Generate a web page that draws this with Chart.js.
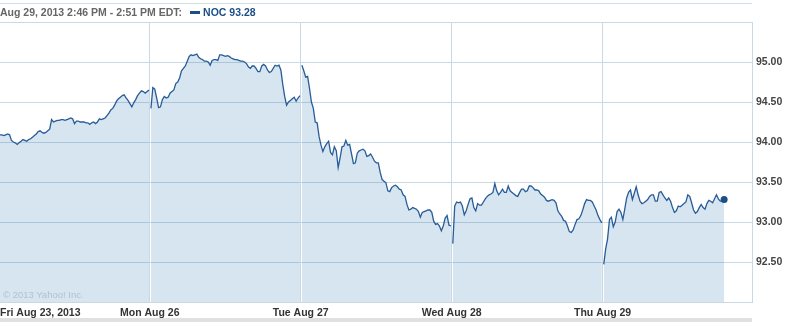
<!DOCTYPE html>
<html>
<head>
<meta charset="utf-8">
<script src="https://cdn.jsdelivr.net/npm/chart.js@4.4.1/dist/chart.umd.min.js"></script>
<style>
  body { margin: 0; background: #fff; }
  #wrap { position: relative; width: 794px; height: 322px; overflow: hidden; }
  #chart { position: absolute; left: 0; top: 0; }
  .topline { position: absolute; left: 0; top: 3px; width: 752px; height: 1px; background: #d3dde4; }
  .band { position: absolute; left: 0; top: 318px; width: 752px; height: 4px; background: #e0e0e0; }
  .head { position: absolute; left: 0; top: 6px; font: bold 10.5px "Liberation Sans", Arial, sans-serif; color: #666; white-space: nowrap; }
  .head .sym { color: #1c4f87; margin-left: 8px; }
  .head .mark { display: inline-block; width: 10px; height: 3px; background: #1c4f87; vertical-align: middle; margin-right: 3px; position: relative; top: -1px; }
  .copy { position: absolute; left: 3px; top: 289px; font: 9.5px "Liberation Sans", Arial, sans-serif; color: #b3c2cd; }
</style>
</head>
<body>
<div id="wrap">
  <canvas id="chart" width="794" height="322"></canvas>
  <div class="topline"></div>
  <div class="head">Aug 29, 2013 2:46 PM - 2:51 PM EDT:<span class="sym"><span class="mark"></span>NOC 93.28</span></div>
  <div class="copy">© 2013 Yahoo! Inc.</div>
  <div class="band"></div>
</div>
<script>
// 5 minute closes, 9:30 to 16:00 (Thu until 14:46)
const fri = [94.09, 94.09, 94.08, 94.09, 94.10, 94.09, 94.02, 94.00, 93.99, 93.97,
  93.99, 94.01, 94.03, 94.02, 94.01, 94.03, 94.04, 94.06, 94.08, 94.10,
  94.13, 94.14, 94.12, 94.11, 94.12, 94.14, 94.16, 94.28, 94.25, 94.26,
  94.27, 94.27, 94.28, 94.28, 94.27, 94.28, 94.29, 94.30, 94.29, 94.23,
  94.26, 94.26, 94.25, 94.25, 94.25, 94.24, 94.24, 94.22, 94.24, 94.25,
  94.23, 94.25, 94.29, 94.28, 94.29, 94.30, 94.33, 94.36, 94.40, 94.42,
  94.46, 94.51, 94.54, 94.56, 94.58, 94.59, 94.55, 94.52, 94.48, 94.44,
  94.49, 94.53, 94.58, 94.61, 94.64, 94.63, 94.61, 94.63, 94.65]
const mon = [94.42, 94.68, 94.66, 94.55, 94.43, 94.44, 94.53, 94.57, 94.55, 94.56,
  94.61, 94.63, 94.65, 94.73, 94.75, 94.80, 94.89, 94.92, 94.95, 95.01,
  95.07, 95.09, 95.08, 95.09, 95.10, 95.06, 95.04, 95.03, 95.01, 95.01,
  95.00, 94.96, 95.02, 95.03, 95.03, 95.02, 95.09, 95.09, 95.08, 95.07,
  95.08, 95.07, 95.05, 95.04, 95.03, 95.03, 95.02, 95.01, 95.01, 95.00,
  94.98, 94.94, 94.92, 94.95, 94.95, 94.92, 94.88, 94.88, 94.95, 94.97,
  94.95, 94.90, 94.87, 94.88, 94.92, 94.96, 94.95, 94.96, 94.90, 94.72,
  94.57, 94.46, 94.50, 94.52, 94.54, 94.56, 94.51, 94.55, 94.58]
const tue = [94.96, 94.89, 94.81, 94.82, 94.67, 94.50, 94.42, 94.25, 94.24, 94.07,
  93.96, 93.88, 93.94, 93.98, 94.01, 93.87, 93.84, 93.94, 93.89, 93.68,
  93.80, 93.94, 93.95, 94.02, 93.96, 93.97, 93.85, 93.73, 93.74, 93.86,
  93.89, 93.90, 93.91, 93.89, 93.82, 93.83, 93.85, 93.81, 93.76, 93.74,
  93.74, 93.62, 93.53, 93.51, 93.49, 93.39, 93.38, 93.43, 93.45, 93.46,
  93.44, 93.41, 93.40, 93.34, 93.32, 93.22, 93.15, 93.16, 93.18, 93.17,
  93.16, 93.13, 93.06, 93.12, 93.13, 93.14, 93.15, 93.15, 93.12, 93.01,
  92.97, 92.98, 92.95, 92.89, 92.95, 93.05, 93.08, 92.96, 92.95]
const wed = [92.73, 93.20, 93.25, 93.24, 93.25, 93.20, 93.09, 93.14, 93.22, 93.29,
  93.30, 93.18, 93.14, 93.23, 93.21, 93.21, 93.25, 93.29, 93.32, 93.34,
  93.35, 93.37, 93.48, 93.39, 93.34, 93.37, 93.41, 93.37, 93.37, 93.45,
  93.39, 93.37, 93.35, 93.33, 93.32, 93.37, 93.41, 93.41, 93.38, 93.39,
  93.45, 93.45, 93.43, 93.40, 93.40, 93.39, 93.35, 93.33, 93.31, 93.27,
  93.26, 93.27, 93.28, 93.27, 93.24, 93.14, 93.10, 93.07, 93.02, 93.01,
  92.95, 92.88, 92.87, 92.90, 92.97, 93.03, 93.04, 93.08, 93.15, 93.23,
  93.28, 93.27, 93.27, 93.25, 93.20, 93.15, 93.08, 93.03, 92.99]
const thu = [92.47, 92.66, 92.79, 93.03, 93.06, 92.94, 93.00, 93.13, 93.16, 93.12,
  93.03, 93.16, 93.30, 93.37, 93.40, 93.28, 93.36, 93.44, 93.34, 93.26,
  93.23, 93.24, 93.26, 93.28, 93.32, 93.34, 93.34, 93.26, 93.26, 93.37,
  93.38, 93.34, 93.30, 93.27, 93.30, 93.26, 93.18, 93.12, 93.14, 93.20,
  93.19, 93.21, 93.23, 93.25, 93.34, 93.32, 93.24, 93.15, 93.11, 93.13,
  93.18, 93.22, 93.18, 93.16, 93.23, 93.27, 93.26, 93.24, 93.29, 93.34,
  93.29, 93.26, 93.26, 93.28]

const days = [fri, mon, tue, wed, thu]
const dayLabels = ["Fri Aug 23, 2013", "Mon Aug 26", "Tue Aug 27", "Wed Aug 28", "Thu Aug 29", ""]
const dayTicks = [0, 392, 787, 1182, 1577, 1968]   // minutes on the session axis
const yTicks = [92, 92.5, 93, 93.5, 94, 94.5, 95, 95.5]

const DAY = 395   // 390 trading minutes + small gap
const STEP = 5

const points = []
days.forEach((vals, k) => {
    vals.forEach((v, i) => points.push({ x: k * DAY + i * STEP, y: v }))
    if (k < days.length - 1) points.push({ x: k * DAY + 392, y: null })
})
const lastIdx = points.length - 1

const gridColor = "#c9d8e3"
const font = { family: "'Liberation Sans', Arial, sans-serif", size: 10.5, weight: "bold" }

new Chart(document.querySelector("#chart"), {
    type: "line",
    data: {
        datasets: [{
            label: "NOC",
            data: points,
            borderColor: "#285c97",
            borderWidth: 1.3,
            backgroundColor: "rgba(50, 125, 180, 0.2)",
            fill: "start",
            spanGaps: false,
            tension: 0,
            clip: false,
            pointRadius: (ctx) => ctx.dataIndex === lastIdx ? 3.5 : 0,
            pointBackgroundColor: "#1c4f87",
            pointBorderColor: "#1c4f87",
            pointBorderWidth: 0
        }]
    },
    options: {
        responsive: false,
        animation: false,
        devicePixelRatio: 1,
        layout: { autoPadding: false, padding: { top: 22, left: 0, right: 0, bottom: 0 } },
        plugins: { legend: { display: false }, tooltip: { enabled: false } },
        scales: {
            x: {
                type: "linear",
                min: 0,
                max: 1968,
                afterBuildTicks: (scale) => { scale.ticks = dayTicks.map((v) => ({ value: v })) },
                afterFit: (scale) => {
                    scale.height = 20
                    scale.paddingLeft = 0
                    scale.paddingRight = 0
                },
                grid: { color: (ctx) => ctx.index === 0 ? "rgba(0,0,0,0)" : gridColor, drawTicks: false },
                border: { display: false },
                ticks: {
                    align: "inner",
                    maxRotation: 0,
                    autoSkip: false,
                    padding: 5,
                    color: "#333",
                    font: font,
                    callback: (v, i) => dayLabels[i]
                }
            },
            y: {
                position: "right",
                min: 92,
                max: 95.5,
                afterBuildTicks: (scale) => { scale.ticks = yTicks.map((v) => ({ value: v })) },
                afterFit: (scale) => {
                    scale.width = 42
                    scale.paddingTop = 0
                    scale.paddingBottom = 0
                },
                grid: { color: gridColor, drawTicks: false },
                border: { display: true, color: gridColor },
                ticks: {
                    padding: 4,
                    color: "#444",
                    font: font,
                    callback: (v) => (v === 92 || v === 95.5) ? "" : v.toFixed(2)
                }
            }
        }
    }
})
</script>
</body>
</html>
